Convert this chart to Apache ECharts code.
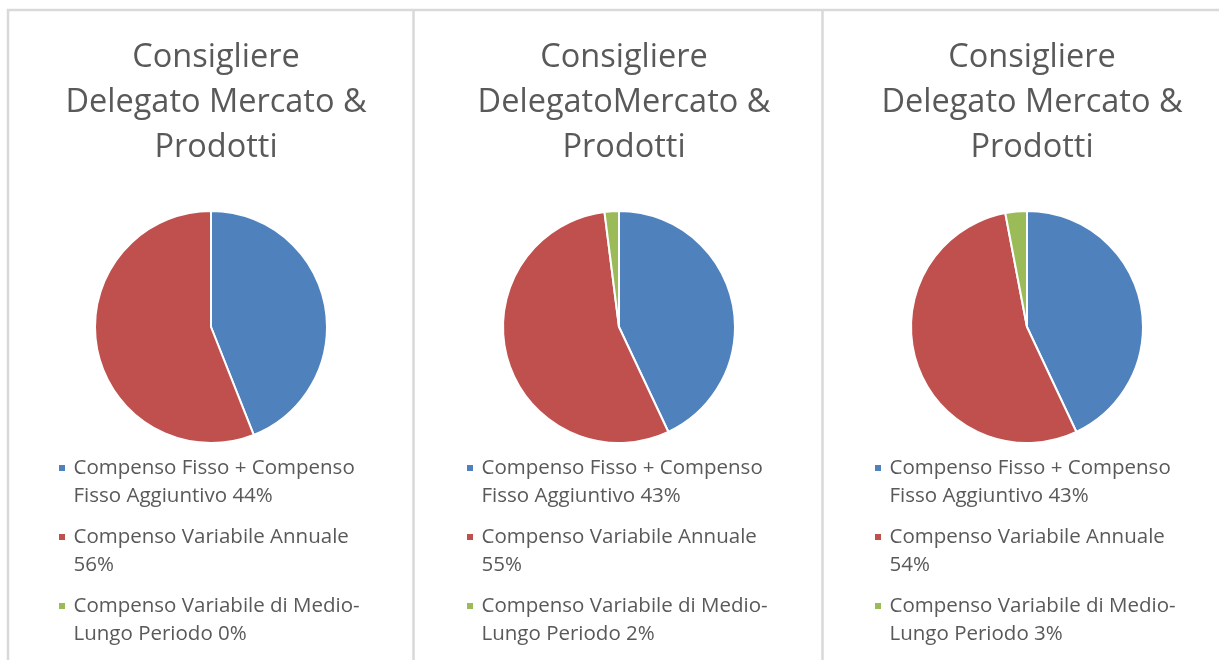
<!DOCTYPE html>
<html>
<head>
<meta charset="utf-8">
<script src="https://cdn.jsdelivr.net/npm/echarts@6/dist/echarts.min.js"></script>
<style>
  html, body { margin: 0; padding: 0; background: #fff; }
  #main { width: 1219px; height: 660px; }
</style>
</head>
<body>
<div id="main"></div>
<script>
// data
var panelTitles = [
  'Consigliere\nDelegato Mercato &\nProdotti',
  'Consigliere\nDelegatoMercato &\nProdotti',
  'Consigliere\nDelegato Mercato &\nProdotti'
];
var categories = [
  'Compenso Fisso + Compenso Fisso Aggiuntivo',
  'Compenso Variabile Annuale',
  'Compenso Variabile di Medio-Lungo Periodo'
];
// legend text as wrapped in the picture
var legendLabels = [
  'Compenso Fisso + Compenso\nFisso Aggiuntivo ',
  'Compenso Variabile Annuale\n',
  'Compenso Variabile di Medio-\nLungo Periodo '
];
var panel1Values = [44, 56, 0];
var panel2Values = [43, 55, 2];
var panel3Values = [43, 54, 3];
var colors = ['#4F81BD', '#C0504D', '#9BBB59'];

var panels = [panel1Values, panel2Values, panel3Values];
var centersX = [211, 619, 1027];
var legendLeft = [57, 465, 873];

var chart = echarts.init(document.getElementById('main'));

var titles = [], legends = [], series = [];
panels.forEach(function (vals, p) {
  titles.push({
    text: panelTitles[p],
    left: centersX[p],
    top: 30,
    textAlign: 'center',
    textStyle: {
      fontFamily: 'Open Sans',
      fontSize: 32.5,
      fontWeight: 'normal',
      lineHeight: 45,
      color: '#595959'
    }
  });
  legends.push({
    data: categories,
    orient: 'vertical',
    left: legendLeft[p],
    top: 426,
    padding: 0,
    itemWidth: 13,
    itemHeight: 8,
    itemGap: -15,
    icon: 'path://M0,0h1v1h-1z',
    selectedMode: false,
    textStyle: {
      fontFamily: 'Open Sans',
      fontSize: 20.5,
      lineHeight: 28,
      color: '#595959'
    },
    // empty first line keeps the square next to the first text line
    formatter: function (name) {
      var i = categories.indexOf(name);
      return ' \n' + legendLabels[i] + vals[i] + '%';
    }
  });
  series.push({
    type: 'pie',
    center: [centersX[p], 327],
    radius: 116,
    startAngle: 90,
    clockwise: true,
    silent: true,
    label: { show: false },
    labelLine: { show: false },
    itemStyle: { borderColor: '#fff', borderWidth: 2 },
    data: categories.map(function (c, i) {
      return { name: c, value: vals[i], itemStyle: { color: colors[i] } };
    })
  });
});

var lineStyle = { stroke: '#d9d9d9', lineWidth: 2.5 };
chart.setOption({
  animation: false,
  color: colors,
  title: titles,
  legend: legends,
  series: series,
  graphic: [
    { type: 'line', shape: { x1: 7, y1: 10, x2: 1219, y2: 10 }, style: lineStyle },
    { type: 'line', shape: { x1: 8, y1: 9, x2: 8, y2: 660 }, style: lineStyle },
    { type: 'line', shape: { x1: 413.5, y1: 9, x2: 413.5, y2: 660 }, style: lineStyle },
    { type: 'line', shape: { x1: 822.5, y1: 9, x2: 822.5, y2: 660 }, style: lineStyle }
  ]
});
</script>
</body>
</html>
